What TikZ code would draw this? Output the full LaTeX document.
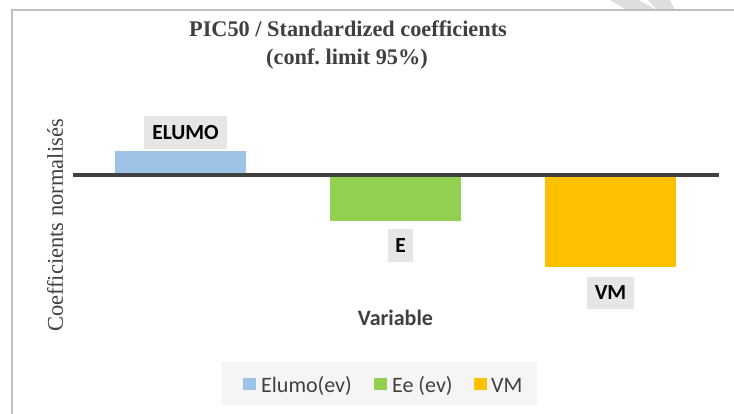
\documentclass[tikz,border=0pt]{standalone}
\usepackage{fontspec}
\setmainfont{Liberation Serif}
\newfontfamily\chartsans{Carlito}
\frenchspacing
\definecolor{frameline}{HTML}{BFBFBF}
\definecolor{inkgray}{HTML}{404040}
\definecolor{labelbg}{HTML}{E6E6E6}
\definecolor{legendbg}{HTML}{F5F5F5}
\definecolor{wmark}{HTML}{DEDEDE}
\definecolor{barblue}{HTML}{9DC3E6}
\definecolor{bargreen}{HTML}{92D050}
\definecolor{bargold}{HTML}{FFC000}
\tikzset{
  databar/.style={draw=none, inner sep=0pt, anchor=north west},
  barlabel/.style={fill=labelbg, inner sep=0pt, text=black,
    font=\chartsans\fontsize{21.5}{24}\selectfont\bfseries},
  keybox/.style={inner sep=0pt, minimum width=13, minimum height=12},
  keytext/.style={anchor=base west, inner sep=0pt, text=inkgray,
    font=\chartsans\fontsize{22}{24}\selectfont},
  titletext/.style={anchor=base, inner sep=0pt, text=inkgray,
    font=\fontsize{22.3}{24}\selectfont\bfseries}
}
\begin{document}
\begin{tikzpicture}[x=1pt, y=-1pt]
  % canvas
  \fill[white] (0,0) rectangle (734,414);
  \useasboundingbox (0,0) rectangle (734,414);

  % faint stripes at the top edge
  \fill[wmark] (610,0) -- (638,0) -- (657,10) -- (627,10) -- cycle;
  \fill[wmark] (648,0) -- (670,0) -- (675,10) -- (657,10) -- cycle;

  % chart frame (top and left edges)
  \draw[frameline, line width=1.3] (12,414) -- (12,10) -- (734,10);

  % title
  \node[titletext] (title1) at (348,37) {PIC50 / Standardized coefficients};
  \node[titletext] (title2) at (347,65) {(conf. limit 95\%)};

  % y-axis title
  \node[rotate=90, inner sep=0pt, text=inkgray,
        font=\fontsize{22.5}{24}\selectfont] (ytitle) at (55,225.5) {Coefficients normalisés};

  % bars
  \node[databar, fill=barblue, minimum width=130.5, minimum height=24] (barElumo) at (115,151) {};
  \node[databar, fill=bargreen, minimum width=130.5, minimum height=46] (barE) at (330,175) {};
  \node[databar, fill=bargold, minimum width=130.5, minimum height=91.5] (barVM) at (545,175) {};

  % zero line
  \coordinate (axisL) at (73,175);
  \coordinate (axisR) at (719,175);
  \draw[inkgray, line width=3.3] (axisL) -- (axisR);

  % bar labels
  \node[barlabel, minimum width=83, minimum height=33] (labElumo) at (185.5,132.5) {ELUMO};
  \node[barlabel, minimum width=25, minimum height=33] (labE) at (400.5,245.5) {E};
  \node[barlabel, minimum width=47, minimum height=32] (labVM) at (610.5,293) {VM};

  % x-axis title
  \node[anchor=base, inner sep=0pt, text=inkgray,
        font=\chartsans\fontsize{22}{24}\selectfont\bfseries] (xtitle) at (395.5,326) {Variable};

  % legend
  \node[fill=legendbg, inner sep=0pt, minimum width=315, minimum height=43] (legend) at (379.5,383.5) {};
  \node[keybox, fill=barblue] (keyElumo) at (249.5,384) {};
  \node[keytext] (txtElumo) at (261,392) {Elumo(ev)};
  \node[keybox, fill=bargreen] (keyE) at (380.5,384) {};
  \node[keytext] (txtE) at (392,392) {Ee (ev)};
  \node[keybox, fill=bargold] (keyVM) at (480.5,384) {};
  \node[keytext] (txtVM) at (491,392) {VM};
\end{tikzpicture}
\end{document}
